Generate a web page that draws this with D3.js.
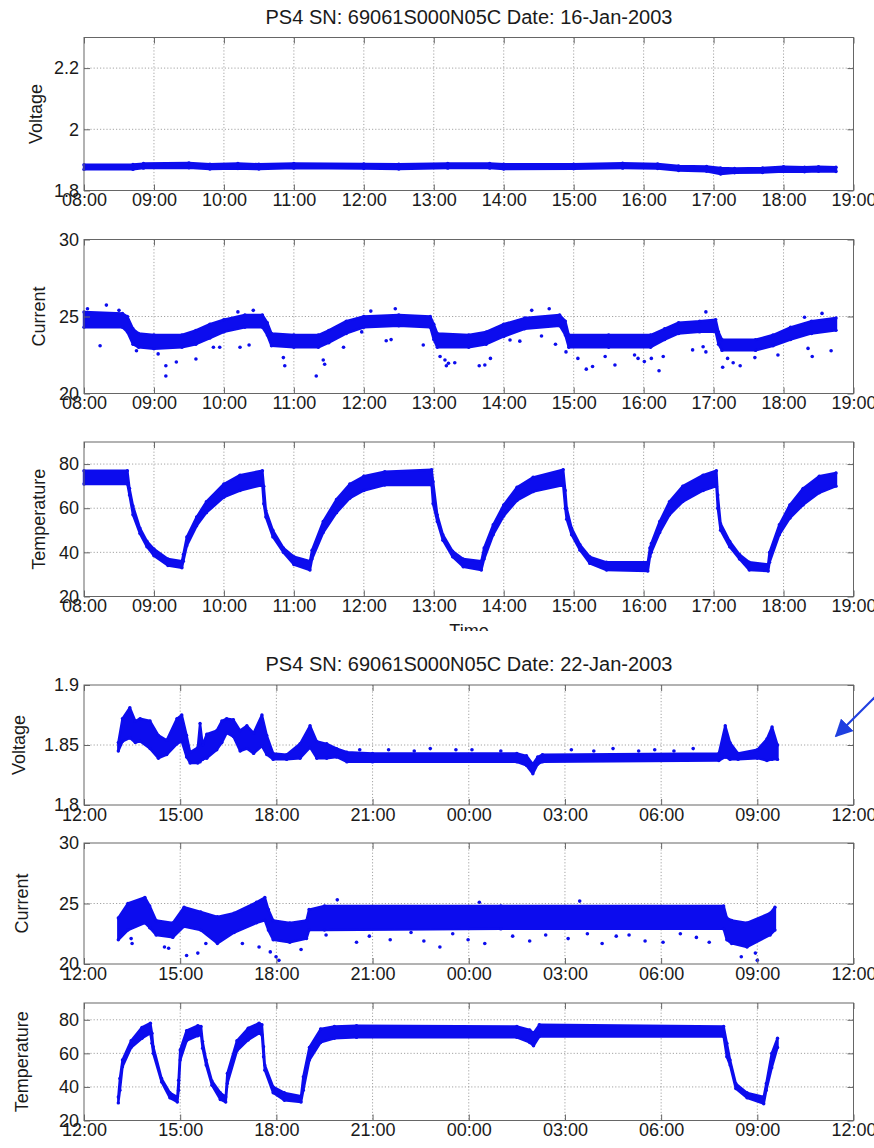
<!DOCTYPE html>
<html>
<head>
<meta charset="utf-8">
<script src="https://cdn.jsdelivr.net/npm/d3@7"></script>
<style>
  body { margin: 0; background: #fff; }
  text { font-family: "Liberation Sans", Arial, sans-serif; fill: #1a1a1a; }
</style>
</head>
<body>
<svg id="chart" width="874" height="1148"></svg>
<script>
// ---------- data (hours, band low, band high) ----------
// 16-Jan-2003
const day1VoltHours = [8.0, 8.7, 8.85, 9.5, 9.8, 10.2, 10.5, 11.0, 12.0, 12.5, 13.2, 13.8, 14.0, 15.0, 15.7, 16.2, 16.5, 16.9, 17.1, 17.3, 17.7, 18.0, 18.3, 18.5, 18.75];
const day1VoltLow   = [1.869, 1.869, 1.873, 1.874, 1.870, 1.872, 1.870, 1.873, 1.872, 1.870, 1.873, 1.873, 1.870, 1.871, 1.873, 1.872, 1.865, 1.863, 1.854, 1.858, 1.859, 1.862, 1.861, 1.863, 1.862];
const day1VoltHigh  = [1.884, 1.885, 1.888, 1.890, 1.886, 1.888, 1.886, 1.888, 1.887, 1.886, 1.888, 1.888, 1.886, 1.886, 1.889, 1.887, 1.880, 1.879, 1.874, 1.872, 1.874, 1.878, 1.876, 1.878, 1.876];

const day1CurrHours = [8.0, 8.55, 8.62, 8.7, 8.78, 9.0, 9.4, 9.6, 9.8, 10.0, 10.3, 10.55, 10.62, 10.68, 11.0, 11.35, 11.5, 11.75, 12.0, 12.5, 12.95, 13.0, 13.05, 13.5, 13.75, 14.0, 14.3, 14.8, 14.88, 14.93, 15.5, 16.1, 16.3, 16.5, 16.8, 17.03, 17.07, 17.12, 17.6, 17.85, 18.1, 18.4, 18.75];
const day1CurrLow   = [24.3, 24.3, 24.0, 23.2, 23.0, 22.9, 23.0, 23.2, 23.6, 24.0, 24.3, 24.3, 23.8, 23.1, 23.0, 23.0, 23.3, 23.9, 24.3, 24.4, 24.3, 23.5, 23.0, 23.0, 23.2, 23.7, 24.2, 24.4, 23.8, 23.0, 23.0, 23.0, 23.5, 23.9, 24.0, 24.0, 23.2, 22.8, 22.8, 23.1, 23.5, 23.9, 24.1];
const day1CurrHigh  = [25.3, 25.2, 25.0, 24.2, 23.9, 23.8, 23.8, 24.1, 24.5, 24.8, 25.1, 25.1, 24.6, 23.9, 23.8, 23.8, 24.1, 24.7, 25.0, 25.1, 25.0, 24.5, 23.9, 23.8, 24.0, 24.5, 24.9, 25.1, 24.7, 23.8, 23.8, 23.8, 24.2, 24.6, 24.7, 24.8, 24.0, 23.5, 23.5, 23.8, 24.3, 24.7, 24.9];
const day1CurrStrayHours = [8.05, 8.23, 8.32, 8.5, 8.75, 9.06, 9.17, 9.17, 9.32, 9.6, 9.85, 9.94, 10.2, 10.23, 10.36, 10.42, 10.85, 10.87, 11.32, 11.42, 11.44, 11.71, 11.97, 12.1, 12.32, 12.39, 12.45, 12.85, 13.09, 13.16, 13.18, 13.21, 13.3, 13.65, 13.73, 13.81, 14.09, 14.23, 14.4, 14.54, 14.65, 14.74, 14.89, 15.06, 15.18, 15.27, 15.45, 15.59, 15.87, 15.92, 16.01, 16.11, 16.22, 16.28, 16.7, 16.85, 16.89, 16.89, 17.13, 17.2, 17.28, 17.38, 17.59, 17.92, 18.3, 18.35, 18.41, 18.55, 18.68];
const day1CurrStray      = [25.5, 23.1, 25.74, 25.4, 22.78, 22.57, 21.8, 21.14, 22.05, 22.24, 23.0, 23.0, 25.3, 23.0, 23.15, 25.4, 22.33, 21.8, 21.14, 22.18, 21.9, 23.0, 24.0, 25.35, 23.43, 23.5, 25.5, 23.15, 22.4, 22.18, 21.8, 21.96, 22.0, 21.8, 21.85, 22.28, 23.47, 23.4, 25.4, 23.73, 25.5, 23.2, 22.7, 22.28, 21.58, 21.75, 22.4, 21.85, 22.5, 22.28, 22.07, 22.28, 21.48, 22.4, 22.83, 23.04, 22.7, 25.3, 21.7, 22.28, 22.0, 21.8, 22.33, 22.5, 24.95, 22.93, 22.4, 25.2, 22.78];

const day1TempHours = [8.0, 8.62, 8.65, 8.7, 8.8, 8.9, 9.0, 9.2, 9.4, 9.42, 9.47, 9.61, 9.75, 10.0, 10.23, 10.55, 10.57, 10.6, 10.7, 10.85, 11.0, 11.23, 11.26, 11.42, 11.61, 11.8, 12.0, 12.3, 12.97, 12.99, 13.05, 13.13, 13.27, 13.42, 13.68, 13.72, 13.85, 14.0, 14.19, 14.42, 14.85, 14.88, 14.9, 14.97, 15.09, 15.23, 15.47, 16.06, 16.09, 16.11, 16.23, 16.37, 16.56, 16.85, 17.04, 17.06, 17.1, 17.23, 17.37, 17.51, 17.78, 17.8, 17.94, 18.09, 18.28, 18.51, 18.75];
const day1TempLow   = [71, 71, 66, 57, 48.5, 42.5, 38.5, 34, 33, 36, 43, 52, 58, 65, 68, 70.5, 62, 56, 47, 40, 34.5, 32, 37, 49, 58, 64.5, 68, 70.5, 70.5, 62, 54, 45.5, 38, 33.5, 32, 37, 48, 56.5, 63.5, 67.5, 70.5, 60, 55, 48, 41, 35, 32, 31.5, 38, 40, 49, 57, 63, 68, 70, 60, 50, 42.5, 37, 32, 31.5, 35.5, 48, 55.5, 61.5, 67, 70];
const day1TempHigh  = [77, 77, 69, 61, 51, 45, 41.5, 37, 36, 39, 47, 56, 63, 71, 75, 77, 70, 59, 50, 42, 38, 36, 41, 54, 64, 71, 74.5, 76.5, 77.5, 72, 57, 48, 40.5, 37, 36, 42, 52.5, 61.5, 69.5, 74, 77.5, 68, 60, 51, 43.5, 38, 35.5, 35.5, 42, 44, 54, 63, 70, 75, 77, 66, 53, 45, 39, 35.5, 34.5, 40, 52.5, 61.5, 69, 74.5, 76];

// 22-Jan-2003 (hours past midnight of the 22nd, so 00:00 next day = 24)
const day2VoltHours = [13.07, 13.2, 13.43, 13.6, 13.75, 14.06, 14.32, 14.58, 14.9, 15.05, 15.2, 15.31, 15.55, 15.62, 15.7, 15.83, 16.14, 16.3, 16.45, 16.66, 16.87, 17.08, 17.29, 17.55, 17.7, 17.9, 18.32, 18.74, 19.05, 19.26, 19.57, 19.88, 20.2, 21.0, 25.5, 25.8, 26.0, 26.15, 26.3, 31.8, 32.0, 32.15, 32.4, 33.0, 33.3, 33.46, 33.63];
const day2VoltLow   = [1.845, 1.853, 1.856, 1.852, 1.853, 1.847, 1.839, 1.842, 1.851, 1.853, 1.840, 1.835, 1.835, 1.836, 1.838, 1.839, 1.846, 1.852, 1.860, 1.857, 1.845, 1.847, 1.843, 1.849, 1.842, 1.838, 1.838, 1.839, 1.848, 1.839, 1.839, 1.840, 1.836, 1.836, 1.836, 1.833, 1.826, 1.834, 1.836, 1.837, 1.840, 1.838, 1.838, 1.839, 1.837, 1.838, 1.838];
const day2VoltHigh  = [1.852, 1.872, 1.881, 1.870, 1.872, 1.870, 1.858, 1.854, 1.872, 1.875, 1.858, 1.844, 1.848, 1.868, 1.850, 1.859, 1.862, 1.870, 1.872, 1.871, 1.862, 1.866, 1.860, 1.875, 1.858, 1.843, 1.842, 1.851, 1.866, 1.853, 1.851, 1.847, 1.844, 1.843, 1.843, 1.841, 1.834, 1.840, 1.842, 1.843, 1.866, 1.852, 1.843, 1.846, 1.855, 1.865, 1.850];
const day2VoltStrayHours = [20.6, 21.5, 22.3, 22.8, 23.6, 24.1, 25.0, 27.2, 27.9, 28.5, 29.3, 29.8, 30.4, 31.0];
const day2VoltStray      = [1.846, 1.846, 1.845, 1.847, 1.846, 1.846, 1.845, 1.846, 1.845, 1.847, 1.845, 1.846, 1.845, 1.847];

const day2CurrHours = [13.07, 13.37, 13.9, 14.05, 14.25, 14.77, 15.12, 15.64, 16.16, 16.68, 17.38, 17.64, 17.75, 17.9, 18.42, 18.94, 19.02, 19.5, 25.0, 31.95, 32.05, 32.2, 32.68, 33.4, 33.55];
const day2CurrLow   = [22.0, 22.8, 23.4, 23.0, 22.4, 22.2, 23.1, 22.8, 21.7, 22.6, 23.4, 23.6, 22.8, 22.0, 21.8, 22.1, 22.8, 22.8, 22.9, 22.9, 22.0, 21.7, 21.4, 22.4, 22.8];
const day2CurrHigh  = [23.8, 25.0, 25.5, 24.8, 23.6, 23.4, 24.7, 24.3, 23.9, 24.2, 25.1, 25.5, 24.5, 23.6, 23.4, 23.6, 24.5, 24.8, 24.8, 24.8, 23.8, 23.6, 23.4, 24.2, 24.7];
const day2CurrStrayHours = [13.47, 13.5, 14.51, 14.64, 15.2, 15.55, 15.8, 16.94, 17.46, 17.81, 17.99, 18.08, 18.77, 19.55, 19.9, 20.5, 20.9, 21.55, 22.2, 22.6, 23.1, 23.5, 23.98, 24.33, 24.5, 25.37, 25.9, 26.4, 27.1, 27.46, 27.7, 28.16, 28.6, 29.0, 29.5, 30.06, 30.6, 31.1, 31.5, 32.5, 32.94, 33.0];
const day2CurrStray      = [22.1, 21.7, 21.4, 21.3, 20.7, 20.9, 21.7, 21.7, 21.4, 21.0, 20.6, 20.3, 21.2, 22.4, 25.3, 21.8, 22.3, 22.0, 22.6, 21.9, 21.4, 22.5, 22.0, 25.1, 21.7, 22.3, 21.9, 22.4, 22.1, 25.2, 22.5, 21.7, 22.3, 22.4, 21.9, 21.8, 22.5, 22.2, 21.8, 20.6, 20.9, 20.3];

const day2TempHours = [13.07, 13.12, 13.2, 13.47, 13.81, 14.07, 14.12, 14.16, 14.42, 14.68, 14.91, 14.95, 15.0, 15.2, 15.55, 15.65, 15.7, 15.81, 15.99, 16.25, 16.42, 16.47, 16.77, 17.12, 17.46, 17.55, 17.6, 17.64, 17.9, 18.25, 18.77, 18.84, 19.03, 19.38, 19.81, 20.5, 25.5, 25.9, 26.02, 26.2, 31.95, 32.05, 32.15, 32.33, 32.68, 33.2, 33.28, 33.45, 33.63];
const day2TempLow   = [30.5, 38, 52, 63.5, 69, 72, 66, 60, 43, 33.5, 31, 38, 56, 67.5, 70.5, 71, 63, 53, 41, 32.5, 31, 42, 61.5, 68, 72, 71, 58, 50, 36.5, 32, 31, 38, 56, 66.5, 69, 69.5, 69.5, 66.5, 64.5, 70, 70, 58, 53, 39, 33.5, 30, 38, 51.5, 63.5];
const day2TempHigh  = [34, 45, 56, 67.5, 75.5, 78, 72, 64, 45, 36.5, 34, 44, 62, 73.5, 76.5, 76, 67, 56, 43.5, 36.5, 34, 48, 67.5, 75, 78, 77, 64, 53, 40, 36.5, 34.5, 46, 63.5, 74.5, 76, 76.5, 76, 74, 72, 77, 76, 66, 56, 42, 36.5, 34, 42, 60, 69];

const day1Ticks = [8, 9, 10, 11, 12, 13, 14, 15, 16, 17, 18, 19];
const day2Ticks = [12, 15, 18, 21, 24, 27, 30, 33, 36];
const voltTicks1 = [1.8, 2, 2.2];
const voltTicks2 = [1.8, 1.85, 1.9];
const currTicks = [20, 25, 30];
const tempTicks = [20, 40, 60, 80];

const titles = ["PS4 SN: 69061S000N05C Date: 16-Jan-2003", "PS4 SN: 69061S000N05C Date: 22-Jan-2003"];

// ---------- drawing ----------
const blue = "#0c0cee";
const left = 84, right = 853.5;
const svg = d3.select("#chart");

function zip(h, lo, hi) {
  return h.map((t, i) => ({ t: t, lo: lo[i], hi: hi[i] }));
}

function hourLabel(h) {
  return String(h % 24).padStart(2, "0") + ":00";
}

function drawPanel(g, p) {
  const x = d3.scaleLinear().domain(p.xDomain).range([left, right]);
  const y = d3.scaleLinear().domain(p.yDomain).range([p.bottom, p.top]);

  // dotted grid
  g.append("g").selectAll("line")
    .data(p.xTicks.slice(1, -1))
    .join("line")
    .attr("x1", d => x(d)).attr("x2", d => x(d))
    .attr("y1", p.top).attr("y2", p.bottom)
    .attr("stroke", "#9a9a9a").attr("stroke-width", 0.9)
    .attr("stroke-dasharray", "1.2,2");
  g.append("g").selectAll("line")
    .data(p.yTicks.filter(v => v > p.yDomain[0] && v < p.yDomain[1]))
    .join("line")
    .attr("x1", left).attr("x2", right)
    .attr("y1", d => y(d)).attr("y2", d => y(d))
    .attr("stroke", "#9a9a9a").attr("stroke-width", 0.9)
    .attr("stroke-dasharray", "1.2,2");

  // the dense cloud of samples, drawn as its envelope
  const band = zip(p.hours, p.low, p.high);
  const area = d3.area()
    .x(d => x(d.t))
    .y0(d => y(d.lo))
    .y1(d => y(d.hi));
  g.append("path")
    .datum(band)
    .attr("d", area)
    .attr("fill", blue)
    .attr("stroke", blue)
    .attr("stroke-width", 2.4)
    .attr("stroke-linejoin", "round");

  // edge samples
  g.append("g").selectAll("circle")
    .data(band.flatMap(d => [{ t: d.t, v: d.lo }, { t: d.t, v: d.hi }]))
    .join("circle")
    .attr("cx", d => x(d.t)).attr("cy", d => y(d.v))
    .attr("r", 1.7).attr("fill", blue);

  // stray samples
  if (p.strayHours) {
    g.append("g").selectAll("circle")
      .data(p.strayHours.map((t, i) => ({ t: t, v: p.stray[i] })))
      .join("circle")
      .attr("cx", d => x(d.t)).attr("cy", d => y(d.v))
      .attr("r", 1.8).attr("fill", blue);
  }

  // frame
  g.append("rect")
    .attr("x", left).attr("y", p.top)
    .attr("width", right - left).attr("height", p.bottom - p.top)
    .attr("fill", "none").attr("stroke", "#666").attr("stroke-width", 1);

  // axes with inward ticks
  const xa = g.append("g").attr("transform", `translate(0,${p.bottom})`)
    .call(d3.axisBottom(x).tickValues(p.xTicks).tickFormat(hourLabel).tickSizeInner(-6).tickSizeOuter(0).tickPadding(6));
  const xt = g.append("g").attr("transform", `translate(0,${p.top})`)
    .call(d3.axisTop(x).tickValues(p.xTicks).tickFormat("").tickSizeInner(-6).tickSizeOuter(0));
  const ya = g.append("g").attr("transform", `translate(${left},0)`)
    .call(d3.axisLeft(y).tickValues(p.yTicks).tickFormat(d => String(d)).tickSizeInner(-6).tickSizeOuter(0).tickPadding(5));
  const yr = g.append("g").attr("transform", `translate(${right},0)`)
    .call(d3.axisRight(y).tickValues(p.yTicks).tickFormat("").tickSizeInner(-6).tickSizeOuter(0));
  [xa, xt, ya, yr].forEach(a => {
    a.select(".domain").remove();
    a.selectAll(".tick line").attr("stroke", "#666");
    a.selectAll("text").attr("font-size", 18).attr("fill", "#1a1a1a")
      .attr("font-family", '"Liberation Sans", Arial, sans-serif');
  });
  xa.selectAll("text").attr("dy", "0.55em");

  // y label
  g.append("text")
    .attr("transform", `translate(${p.labelX},${(p.top + p.bottom) / 2}) rotate(-90)`)
    .attr("text-anchor", "middle")
    .attr("font-size", 18)
    .text(p.label);
}

// figure 1 (clipped where figure 2 is pasted over it)
svg.append("defs").append("clipPath").attr("id", "fig1clip")
  .append("rect").attr("x", 0).attr("y", 0).attr("width", 874).attr("height", 631);
const fig1 = svg.append("g").attr("clip-path", "url(#fig1clip)");

fig1.append("text").attr("x", 469).attr("y", 24).attr("text-anchor", "middle")
  .attr("font-size", 20).text(titles[0]);

drawPanel(fig1.append("g"), {
  xDomain: [8, 19], xTicks: day1Ticks, yDomain: [1.8, 2.3], yTicks: voltTicks1,
  top: 37.5, bottom: 190.5, label: "Voltage", labelX: 41.5,
  hours: day1VoltHours, low: day1VoltLow, high: day1VoltHigh
});
drawPanel(fig1.append("g"), {
  xDomain: [8, 19], xTicks: day1Ticks, yDomain: [20, 30], yTicks: currTicks,
  top: 239.5, bottom: 393.5, label: "Current", labelX: 45,
  hours: day1CurrHours, low: day1CurrLow, high: day1CurrHigh,
  strayHours: day1CurrStrayHours, stray: day1CurrStray
});
drawPanel(fig1.append("g"), {
  xDomain: [8, 19], xTicks: day1Ticks, yDomain: [20, 90], yTicks: tempTicks,
  top: 442, bottom: 596.5, label: "Temperature", labelX: 45,
  hours: day1TempHours, low: day1TempLow, high: day1TempHigh
});
fig1.append("text").attr("x", 469).attr("y", 637).attr("text-anchor", "middle")
  .attr("font-size", 18).text("Time");

// figure 2
const fig2 = svg.append("g");
fig2.append("text").attr("x", 469).attr("y", 671).attr("text-anchor", "middle")
  .attr("font-size", 20).text(titles[1]);

drawPanel(fig2.append("g"), {
  xDomain: [12, 36], xTicks: day2Ticks, yDomain: [1.8, 1.9], yTicks: voltTicks2,
  top: 685, bottom: 805, label: "Voltage", labelX: 25,
  hours: day2VoltHours, low: day2VoltLow, high: day2VoltHigh,
  strayHours: day2VoltStrayHours, stray: day2VoltStray
});
drawPanel(fig2.append("g"), {
  xDomain: [12, 36], xTicks: day2Ticks, yDomain: [20, 30], yTicks: currTicks,
  top: 843, bottom: 964, label: "Current", labelX: 28,
  hours: day2CurrHours, low: day2CurrLow, high: day2CurrHigh,
  strayHours: day2CurrStrayHours, stray: day2CurrStray
});
drawPanel(fig2.append("g"), {
  xDomain: [12, 36], xTicks: day2Ticks, yDomain: [20, 90], yTicks: tempTicks,
  top: 1003, bottom: 1120.5, label: "Temperature", labelX: 28,
  hours: day2TempHours, low: day2TempLow, high: day2TempHigh
});

// annotation arrow pointing at the voltage panel
const arrowBlue = "#1f3fe0";
svg.append("defs").append("marker")
  .attr("id", "head").attr("viewBox", "0 0 10 10")
  .attr("refX", 9).attr("refY", 5)
  .attr("markerWidth", 8).attr("markerHeight", 8)
  .attr("markerUnits", "strokeWidth")
  .attr("orient", "auto")
  .append("path").attr("d", "M0,0 L10,5 L0,10 z").attr("fill", arrowBlue);
svg.append("line")
  .attr("x1", 882).attr("y1", 690).attr("x2", 836).attr("y2", 736)
  .attr("stroke", arrowBlue).attr("stroke-width", 2.2)
  .attr("marker-end", "url(#head)");
</script>
</body>
</html>
